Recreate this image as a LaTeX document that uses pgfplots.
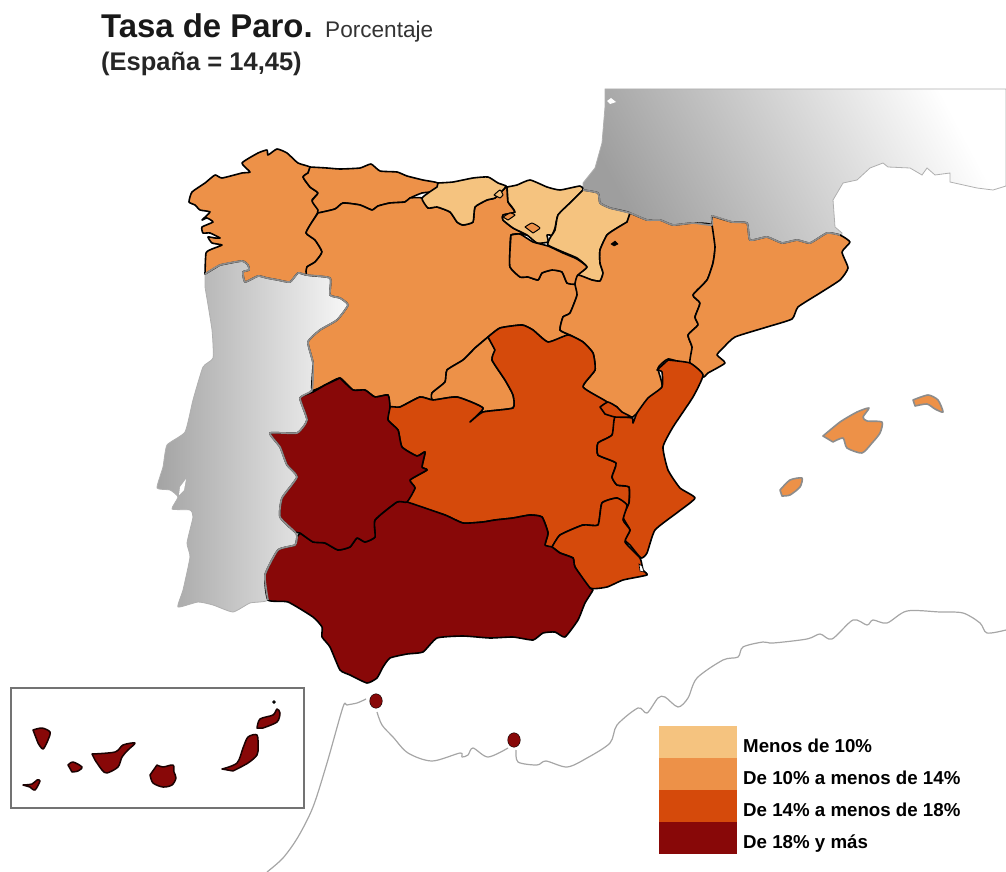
\documentclass[border=0pt]{standalone}
\usepackage{fontspec}
\setmainfont{Liberation Sans}
\usepackage{pgfplots}
\pgfplotsset{compat=1.18}
\definecolor{clow}{HTML}{F5C37F}
\definecolor{cmid}{HTML}{ED9148}
\definecolor{chigh}{HTML}{D54A0B}
\definecolor{ctop}{HTML}{880808}
\definecolor{cgrey}{HTML}{8C8C8C}
\begin{document}
\begin{tikzpicture}
\begin{axis}[
    scale only axis,
    width=1006pt, height=872pt,
    xmin=0, xmax=1006, ymin=0, ymax=872,
    y dir=reverse,
    ticks=none,
    axis line style={draw=none},
    reg/.style={draw=black, line width=1.6pt, line join=round, smooth, tension=0.3},
    isl/.style={draw=cgrey, line width=1.6pt, line join=round, fill=cmid, smooth, tension=0.4},
    can/.style={draw=black!80!ctop, line width=1.5pt, line join=round, fill=ctop, smooth, tension=0.5},
    border/.style={draw=cgrey, line width=1.7pt, line join=round, smooth, tension=0.3},
    coast/.style={draw=black!35, line width=1.2pt, line join=round, smooth, tension=0.5},
    leg/.style={draw=none, fill=#1},
]
% Portugal
\addplot[left color=black!36, right color=black!3, draw=cgrey!70, line width=0.8pt, smooth, tension=0.3] coordinates {
(205,274)(220,265)(242,261)(248,265)(249,270)(243,272)(245,282)(258,276)(267,278)(278,280)(290,282)(298,273)(307,275)(330,278)(330,295)(340,298)(348,305)(337,320)(320,330)(308,342)(313,363)(312,390)(300,398)(307,420)(297,433)(270,433)(280,447)(287,465)(297,477)(282,498)(280,517)(295,532)(297,537)(295,545)(278,550)(265,575)(268,600)(250,603)(233,612)(213,605)(198,602)(178,607)(183,590)(190,557)(187,543)(193,517)(190,510)(172,509)(178,497)(170,490)(157,488)(163,467)(167,445)(185,432)(193,400)(203,367)(213,358)(212,330)(205,287)} -- cycle;
\addplot[draw=none, fill=white] coordinates {(186,479)(184,490)(179,495)(180,487)} -- cycle;
% France
\addplot[left color=black!38, right color=white, shading angle=118, draw=cgrey!70, line width=0.8pt] coordinates {
(605,89)(1006,89)(1006,186)(993,190)(977,188)(950,182)(950,173)(935,175)(927,168)(922,175)(910,168)(888,167)(883,163)(870,168)(857,180)(843,183)(833,200)(835,227)(842,233)(840,250)(700,250)(583,200)(583,183)(595,168)(602,143)(605,107)} -- cycle;
\addplot[draw=none, fill=white] coordinates {(607,101)(611,98)(616,102)(610,104)} -- cycle;
% Comunidades
\addplot[reg, fill=cmid] coordinates { % Galicia
(205,274)(206,253)(212,249)(222,245)(212,243)(208,237)(215,238)(220,238)(210,233)(203,233)(202,227)(213,222)(207,218)(202,220)(210,212)(200,210)(195,205)(189,202)(192,192)(205,183)(215,175)(222,178)(242,173)(250,172)(242,163)(258,153)(267,150)(268,155)(277,149)(287,153)(298,163)(310,167)(308,173)(303,177)(310,187)(318,193)(312,200)(317,205)(318,212)(312,222)(306,233)(315,240)(322,252)(315,262)(307,267)(307,275)(298,273)(290,282)(278,280)(267,278)(258,276)(245,282)(243,272)(249,270)(248,265)(242,261)(220,265)} -- cycle;
\addplot[reg, fill=cmid] coordinates { % Asturias
(310,167)(327,168)(340,169)(360,168)(371,164)(380,171)(397,172)(407,176)(423,180)(438,183)(437,191)(422,193)(410,198)(405,202)(390,203)(378,206)(372,210)(360,205)(343,203)(335,209)(318,213)(318,210)(312,201)(318,193)(310,187)(303,177)(308,173)} -- cycle;
\addplot[reg, fill=cmid] coordinates { % Castilla y Leon
(318,213)(335,209)(343,203)(360,205)(372,210)(378,206)(390,203)(405,202)(410,198)(422,198)(428,208)(437,207)(450,212)(457,222)(463,225)(473,222)(475,207)(487,200)(495,198)(503,190)(507,187)(508,202)(515,212)(503,215)(503,220)(513,228)(527,235)(520,234)(511,235)(510,250)(510,267)(520,277)(528,277)(538,280)(542,273)(552,270)(562,272)(567,283)(575,284)(577,295)(570,313)(563,317)(560,330)(568,335)(548,342)(533,330)(522,325)(500,328)(488,337)(475,348)(463,360)(447,370)(445,382)(432,393)(433,400)(420,397)(400,407)(390,407)(388,395)(375,397)(365,390)(353,390)(340,378)(325,385)(312,390)(313,363)(308,342)(320,330)(337,320)(348,305)(340,298)(330,295)(330,278)(307,275)(307,267)(315,262)(322,252)(315,240)(306,233)(312,222)} -- cycle;
\addplot[reg, fill=clow] coordinates { % Cantabria
(438,183)(453,182)(473,178)(488,177)(498,183)(506,186)(503,190)(495,198)(487,200)(475,207)(473,222)(463,225)(457,222)(450,212)(437,207)(428,208)(422,198)(437,187)} -- cycle;
\addplot[reg, fill=clow] coordinates { % Pais Vasco
(507,187)(517,185)(530,180)(547,187)(560,190)(580,186)(583,190)(570,203)(558,215)(555,228)(552,235)(547,235)(548,242)(537,243)(527,235)(513,228)(503,220)(503,215)(515,212)(508,202)} -- cycle;
\addplot[reg, fill=clow] coordinates { % Navarra
(583,190)(598,193)(600,203)(610,208)(630,213)(627,222)(617,228)(607,235)(600,250)(600,263)(603,273)(600,281)(592,280)(578,275)(587,267)(577,258)(563,252)(548,245)(550,238)(555,230)(558,215)(570,203)} -- cycle;
\addplot[reg, fill=cmid] coordinates { % La Rioja
(511,235)(520,234)(533,242)(548,246)(563,253)(577,259)(587,267)(578,275)(575,284)(567,283)(562,272)(552,270)(542,273)(538,280)(528,277)(520,277)(510,267)(510,250)} -- cycle;
\addplot[reg, fill=cmid] coordinates { % Aragon
(630,213)(647,220)(660,220)(673,225)(693,223)(712,225)(715,247)(713,263)(707,280)(693,295)(700,303)(695,317)(698,325)(688,335)(692,347)(690,363)(683,363)(668,359)(658,368)(662,387)(643,407)(633,417)(630,417)(620,413)(617,407)(607,402)(583,387)(595,370)(593,353)(583,342)(570,335)(560,330)(563,317)(570,313)(577,295)(575,284)(578,275)(592,280)(600,281)(603,273)(600,263)(600,250)(607,235)(617,228)(627,222)} -- cycle;
\addplot[reg, fill=cmid] coordinates { % Cataluna
(712,216)(732,222)(747,223)(750,240)(767,237)(782,243)(797,240)(810,243)(827,233)(840,235)(850,242)(842,252)(848,268)(840,280)(820,293)(798,307)(792,319)(767,327)(735,337)(723,348)(717,355)(725,363)(708,373)(703,377)(690,363)(692,347)(688,335)(698,325)(695,317)(700,303)(693,295)(707,280)(713,263)(715,247)(712,225)} -- cycle;
\addplot[reg, fill=cmid] coordinates { % Madrid
(488,337)(495,350)(492,360)(505,380)(513,395)(513,408)(483,412)(470,422)(483,408)(457,397)(433,400)(432,393)(445,382)(447,370)(463,360)(475,348)} -- cycle;
\addplot[reg, fill=chigh] coordinates { % Castilla-La Mancha
(488,337)(500,328)(522,325)(533,330)(548,342)(568,335)(583,342)(593,353)(595,370)(583,387)(607,402)(603,410)(615,417)(612,435)(598,443)(598,455)(616,463)(612,477)(617,485)(629,487)(629,503)(627,505)(617,498)(602,503)(598,525)(583,525)(560,535)(552,547)(545,545)(548,533)(542,517)(530,515)(513,518)(495,520)(483,522)(463,523)(445,515)(407,502)(415,488)(410,480)(427,470)(422,467)(425,452)(417,456)(402,447)(398,430)(388,420)(390,407)(400,407)(420,397)(433,400)(457,397)(483,408)(470,422)(483,412)(513,408)(513,395)(505,380)(492,360)(495,350)} -- cycle;
\addplot[reg, fill=chigh] coordinates { % C. Valenciana
(668,360)(690,363)(703,375)(693,397)(673,427)(663,447)(668,470)(680,488)(695,498)(678,512)(655,530)(647,553)(641,558)(630,545)(625,540)(630,530)(623,517)(629,503)(629,487)(617,485)(612,477)(616,463)(598,455)(598,443)(612,435)(615,417)(632,418)(633,423)(637,413)(648,398)(662,387)(662,372)(657,370)} -- cycle;
\addplot[reg, fill=chigh] coordinates { % Rincon de Ademuz
(600,407)(608,402)(617,407)(622,412)(631,417)(615,417)(605,414)} -- cycle;
\addplot[reg, fill=chigh] coordinates { % Murcia
(552,547)(560,535)(583,525)(598,525)(602,503)(617,498)(627,505)(623,520)(630,530)(625,542)(640,558)(643,570)(647,575)(623,580)(607,587)(590,588)(575,567)(573,558)(560,553)} -- cycle;
\addplot[draw=black, fill=white, line width=0.6pt] coordinates {(639,564)(642,566)(644,572)(640,571)} -- cycle;
\addplot[reg, fill=ctop] coordinates { % Andalucia
(300,533)(297,537)(295,545)(278,550)(265,575)(268,600)(288,602)(313,617)(322,627)(322,637)(330,647)(340,670)(350,675)(367,683)(377,678)(383,667)(390,658)(407,654)(423,652)(437,638)(463,636)(490,638)(513,637)(533,640)(543,633)(555,632)(565,637)(578,620)(585,603)(593,590)(590,588)(575,567)(573,558)(560,553)(552,547)(545,545)(548,533)(542,517)(530,515)(513,518)(495,520)(483,522)(463,523)(445,515)(407,502)(397,502)(375,520)(375,537)(365,542)(357,538)(350,547)(338,550)(325,543)(313,542)} -- cycle;
\addplot[reg, fill=ctop] coordinates { % Extremadura
(340,378)(353,390)(365,390)(375,397)(388,395)(390,407)(388,420)(398,430)(402,447)(417,456)(425,452)(422,467)(427,470)(410,480)(415,488)(407,502)(397,502)(375,520)(375,537)(365,542)(357,538)(350,547)(338,550)(325,543)(313,542)(300,533)(295,532)(280,517)(282,498)(297,477)(287,465)(280,447)(270,433)(297,433)(307,420)(300,398)(313,392)(325,385)} -- cycle;
% enclaves
\addplot[reg, fill=cmid, line width=1pt] coordinates {(525,227)(532,223)(540,228)(533,233)} -- cycle;
\addplot[reg, fill=cmid, line width=1pt] coordinates {(503,217)(510,213)(515,215)(508,220)} -- cycle;
\addplot[reg, fill=clow, line width=1pt] coordinates {(494,195)(500,190)(503,195)(500,198)} -- cycle;
\addplot[draw=black, fill=black, line width=0.5pt] coordinates {(611,244)(615,241)(618,244)(614,246)} -- cycle;
% fronteras en gris
\addplot[border] coordinates {(205,274)(220,265)(242,261)(248,265)(249,270)(243,272)(245,282)(258,276)(267,278)(278,280)(290,282)(298,273)(307,275)(330,278)(330,295)(340,298)(348,305)(337,320)(320,330)(308,342)(313,363)(312,390)(300,398)(307,420)(297,433)(270,433)(280,447)(287,465)(297,477)(282,498)(280,517)(295,532)(297,537)(295,545)(278,550)(265,575)(268,600)};
\addplot[border] coordinates {(583,190)(598,193)(600,203)(610,208)(630,213)(647,220)(660,220)(673,225)(693,223)(712,225)(712,216)(732,222)(747,223)(750,240)(767,237)(782,243)(797,240)(810,243)(827,233)(840,235)};
% Baleares
\addplot[isl] coordinates {(823,436)(840,422)(857,412)(869,408)(863,417)(867,421)(882,422)(880,433)(872,443)(862,453)(847,448)(843,438)(833,442)} -- cycle;
\addplot[isl] coordinates {(913,400)(928,395)(938,400)(943,412)(935,409)(927,404)(915,406)} -- cycle;
\addplot[isl] coordinates {(780,490)(790,480)(802,478)(800,487)(790,495)(782,496)} -- cycle;
% Africa
\addplot[coast] coordinates {(267,872)(283,858)(298,837)(313,807)(327,763)(343,707)(347,705)(357,703)(366,699)};
\addplot[coast] coordinates {(377,712)(382,725)(393,737)(408,753)(432,761)(460,753)(462,757)(468,755)(473,748)(488,757)(508,748)};
\addplot[coast] coordinates {(516,750)(518,762)(537,765)(546,761)(567,767)(587,758)(610,743)(617,725)(638,708)(647,713)(658,698)(665,697)(678,707)(688,698)(697,678)(723,660)(738,657)(743,647)(763,642)(773,643)(807,639)(820,634)(832,639)(853,620)(867,625)(873,620)(887,623)(907,611)(940,612)(963,613)(980,623)(987,633)(1006,630)};
% Ceuta y Melilla
\addplot[only marks, mark=*, mark size=6.3pt, mark options={fill=ctop, draw=none, yscale=1.15}] coordinates {(376,701)(514,740)};
% Canarias
\addplot[draw=black!55, line width=1.2pt] coordinates {(11,688)(304,688)(304,808)(11,808)} -- cycle;
\addplot[can] coordinates {(33,730)(42,728)(50,732)(48,740)(43,749)(38,743)} -- cycle;
\addplot[can] coordinates {(23,785)(32,784)(37,780)(40,781)(35,790)(30,787)} -- cycle;
\addplot[can] coordinates {(68,765)(73,762)(82,767)(78,771)(72,772)} -- cycle;
\addplot[can] coordinates {(92,754)(115,752)(123,745)(135,743)(128,750)(122,757)(118,767)(107,773)(102,770)(95,760)} -- cycle;
\addplot[can] coordinates {(157,765)(163,767)(173,765)(174,772)(176,778)(172,785)(163,787)(153,783)(150,775)} -- cycle;
\addplot[can] coordinates {(222,769)(237,763)(243,748)(248,737)(257,735)(258,747)(257,755)(248,763)(233,771)} -- cycle;
\addplot[can] coordinates {(257,728)(260,719)(273,715)(277,709)(280,713)(277,722)(263,728)} -- cycle;
\addplot[only marks, mark=*, mark size=1.5pt, mark options={fill=black, draw=none}] coordinates {(274,702)};
% Leyenda
\addplot[leg=clow] coordinates {(659,726)(737,726)(737,758)(659,758)} -- cycle;
\addplot[leg=cmid] coordinates {(659,758)(737,758)(737,790)(659,790)} -- cycle;
\addplot[leg=chigh] coordinates {(659,790)(737,790)(737,822)(659,822)} -- cycle;
\addplot[leg=ctop] coordinates {(659,822)(737,822)(737,854)(659,854)} -- cycle;
\node[anchor=base west, inner sep=0pt, font=\bfseries\fontsize{18.7}{20}\selectfont] at (axis cs:743,752) {Menos de 10\%};
\node[anchor=base west, inner sep=0pt, font=\bfseries\fontsize{18.7}{20}\selectfont] at (axis cs:743,784) {De 10\% a menos de 14\%};
\node[anchor=base west, inner sep=0pt, font=\bfseries\fontsize{18.7}{20}\selectfont] at (axis cs:743,816) {De 14\% a menos de 18\%};
\node[anchor=base west, inner sep=0pt, font=\bfseries\fontsize{18.7}{20}\selectfont] at (axis cs:743,848) {De 18\% y más};
% Titulo
\node[anchor=base west, inner sep=0pt, text=black!90, font=\bfseries\fontsize{32.9}{34}\selectfont] at (axis cs:101,38) {Tasa de Paro.};
\node[anchor=base west, inner sep=0pt, text=black!80, font=\fontsize{22.6}{24}\selectfont] at (axis cs:325,38) {Porcentaje};
\node[anchor=base west, inner sep=0pt, text=black!85, font=\bfseries\fontsize{25.5}{27}\selectfont] at (axis cs:101,71) {(España = 14,45)};
\end{axis}
\end{tikzpicture}
\end{document}
